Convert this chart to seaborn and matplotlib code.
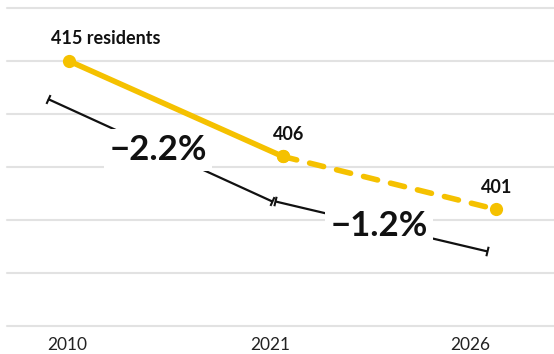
import numpy as np
import pandas as pd
import matplotlib
matplotlib.use("Agg")
import matplotlib.pyplot as plt
import seaborn as sns

# Resident counts; 2026 is a projection
years = ["2010", "2021", "2026"]
residents = [415, 406, 401]
value_labels = ["415 residents", "406", "401"]
grid_values = [390, 395, 400, 405, 410, 415, 420]

sns.set_theme(style="white")
plt.rcParams["font.family"] = ["Lato", "DejaVu Sans"]

YELLOW = "#F5C100"
GRID = "#E2E2E2"
INK = "#111111"
DPI = 100

fig = plt.figure(figsize=(5.54, 3.54), dpi=DPI)
ax = fig.add_axes([7 / 554, 28 / 354, 547 / 554, 318 / 354])

pos = np.arange(len(years))
df = pd.DataFrame({"x": pos, "residents": residents})
observed = df.iloc[:2]
forecast = df.iloc[1:]

line_kw = dict(color=YELLOW, lw=4, marker="o", markersize=9.5,
               markeredgewidth=0, legend=False)
sns.lineplot(data=observed, x="x", y="residents", ax=ax,
             solid_capstyle="round", **line_kw)
sns.lineplot(data=forecast, x="x", y="residents", ax=ax,
             linestyle=(0, (2.6, 2.4)), dash_capstyle="round", **line_kw)

ax.set_xlim(-0.29, 2.27)
ax.set_ylim(grid_values[0], grid_values[-1])

# Horizontal guides
ax.set_yticks(grid_values)
ax.set_yticklabels([])
ax.grid(axis="y", color=GRID, lw=1.5)
for gl in ax.get_ygridlines():
    gl.set_clip_on(False)
ax.set_axisbelow(True)
for s in ax.spines.values():
    s.set_visible(False)

ax.set_xticks([-0.01, 0.94, 1.88])
ax.set_xticklabels(years)
ax.tick_params(axis="x", length=0, pad=8, labelsize=12.5, labelcolor="#222222")
ax.tick_params(axis="y", length=0)
ax.set_xlabel("")
ax.set_ylabel("")

# Value labels above each point
label_offsets = [(-13, 12, "left"), (4, 12, "center"), (0, 12, "center")]
for x, y, txt, (dx, dy, ha) in zip(pos, residents, value_labels, label_offsets):
    ax.annotate(txt, (x, y), xytext=(dx, dy), textcoords="offset points",
                ha=ha, va="baseline", fontsize=13, fontweight="bold", color=INK)

# Change brackets, drawn below the line (offsets in pixels)
bracket_offsets = [((-21, 38), (-10.5, 45)), ((-7.5, 45), (-9, 42))]
to_disp = ax.transData
to_data = ax.transData.inverted()
for i, ((sdx, sdy), (edx, edy)) in enumerate(bracket_offsets):
    p0 = to_disp.transform((pos[i], residents[i])) + np.array([sdx, -sdy])
    p1 = to_disp.transform((pos[i + 1], residents[i + 1])) + np.array([edx, -edy])
    angle = np.degrees(np.arctan2(p1[1] - p0[1], p1[0] - p0[0]))
    d0, d1 = to_data.transform(p0), to_data.transform(p1)
    ax.plot([d0[0], d1[0]], [d0[1], d1[1]], color=INK, lw=1.6, zorder=3,
            solid_capstyle="butt")
    ax.plot([d0[0], d1[0]], [d0[1], d1[1]], ls="none", marker=(2, 0, angle),
            markersize=7, markeredgewidth=1.5, markeredgecolor=INK, zorder=3)
    pct = (residents[i + 1] - residents[i]) / residents[i] * 100
    label = f"\u2212{abs(pct):.1f}%"
    mid = to_data.transform((p0 + p1) / 2)
    ax.text(mid[0] - 0.01, mid[1], label, ha="center", va="center", fontsize=25,
            fontweight="bold", color=INK, zorder=4,
            bbox=dict(boxstyle="square,pad=0.15", fc="white", ec="none"))

fig.savefig("out.png", dpi=DPI)
